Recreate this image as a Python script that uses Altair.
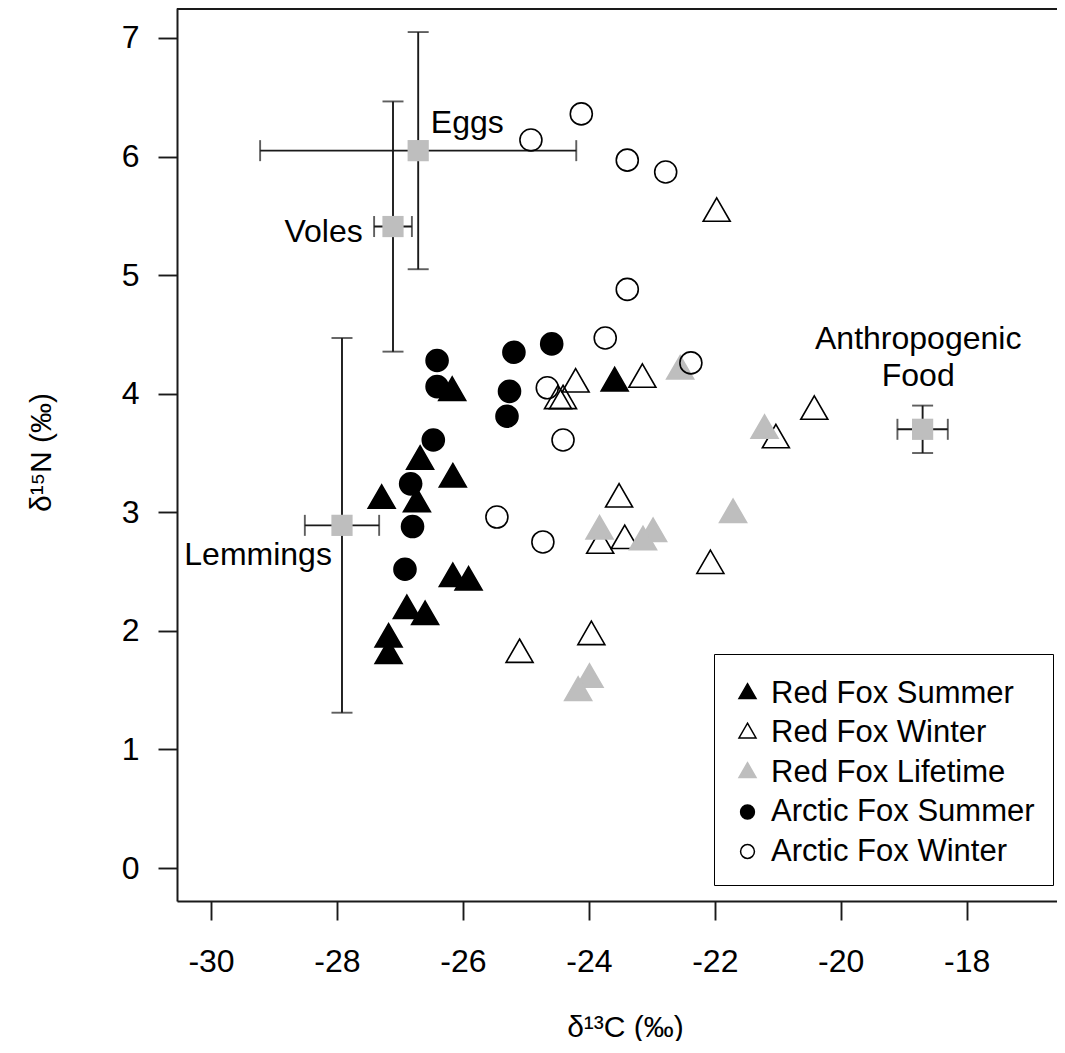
import altair as alt
import pandas as pd

# ---------------- data ----------------
series_names = ["Red Fox Summer", "Red Fox Winter", "Red Fox Lifetime",
                "Arctic Fox Summer", "Arctic Fox Winter"]

rfs_x = [-26.17, -26.68, -26.16, -27.29, -26.73, -26.16, -25.91, -26.89, -26.60, -27.18, -27.18, -23.59]
rfs_y = [4.01, 3.43, 3.28, 3.10, 3.07, 2.44, 2.41, 2.17, 2.12, 1.93, 1.79, 4.09]

rfw_x = [-24.21, -24.49, -24.41, -23.15, -23.52, -23.82, -23.43, -22.07, -23.96, -25.10, -20.42, -21.03, -21.97]
rfw_y = [4.08, 3.94, 3.94, 4.12, 3.11, 2.72, 2.76, 2.55, 1.95, 1.80, 3.85, 3.61, 5.52]

rfl_x = [-22.55, -23.83, -22.98, -23.14, -21.71, -23.99, -24.17, -21.21]
rfl_y = [4.19, 2.84, 2.82, 2.75, 2.98, 1.59, 1.48, 3.69]

afs_x = [-26.41, -26.41, -26.47, -26.83, -26.80, -26.92, -25.19, -24.59, -25.26, -25.30]
afs_y = [4.28, 4.06, 3.61, 3.24, 2.88, 2.52, 4.35, 4.42, 4.02, 3.81]

afw_x = [-24.92, -24.12, -23.39, -22.78, -23.39, -23.74, -22.38, -24.66, -24.41, -25.46, -24.73]
afw_y = [6.14, 6.36, 5.97, 5.87, 4.88, 4.47, 4.26, 4.05, 3.61, 2.96, 2.75]

prey_names = ["Eggs", "Voles", "Lemmings", "Anthropogenic Food"]
prey_x = [-26.71, -27.11, -27.92, -18.70]
prey_sx = [2.51, 0.30, 0.59, 0.40]
prey_y = [6.05, 5.41, 2.89, 3.70]
prey_sy = [1.00, 1.055, 1.58, 0.20]

ann_text = ["Eggs", "Voles", "Lemmings", "Anthropogenic", "Food"]
ann_x = [-26.51, -27.59, -28.08, -18.77, -18.77]
ann_y = [6.20, 5.28, 2.556, 4.375, 4.066]
ann_align = ["left", "right", "right", "center", "center"]

x_ticks = [-30, -28, -26, -24, -22, -20, -18]
y_ticks = [0, 1, 2, 3, 4, 5, 6, 7]

# ---------------- tables ----------------
rows = []
for name, xs, ys in zip(series_names,
                        [rfs_x, rfw_x, rfl_x, afs_x, afw_x],
                        [rfs_y, rfw_y, rfl_y, afs_y, afw_y]):
    for xv, yv in zip(xs, ys):
        rows.append({"series": name, "d13C": xv, "d15N": yv})
pts = pd.DataFrame(rows)

prey = pd.DataFrame({"prey": prey_names, "mx": prey_x, "sx": prey_sx,
                     "my": prey_y, "sy": prey_sy})
ann = pd.DataFrame({"label": ann_text, "ax": ann_x, "ay": ann_y, "align": ann_align})

FONT = "Liberation Sans"
INK = "#1a1a1a"
GRAY = "#BEBEBE"
W, H = 880, 893
LW = 1.9

TRI = "M0,-1.155L1,0.577L-1,0.577Z"
CIRC = "M0.815,0A0.815,0.815,0,1,1,-0.815,0A0.815,0.815,0,1,1,0.815,0Z"

xscale = alt.Scale(domain=[-30.54, -16.566], nice=False, zero=False)
yscale = alt.Scale(domain=[-0.278, 7.253], nice=False, zero=False)

xaxis = alt.Axis(values=x_ticks, labelExpr="'' + datum.value",
                 tickSize=19, tickWidth=LW, tickColor=INK,
                 labelFontSize=32, labelFont=FONT, labelColor="black",
                 labelPadding=26, labelFlush=False,
                 domain=True, domainColor=INK, domainWidth=2, grid=False,
                 title="δ¹³C (‰)", titleFontSize=30, titleFont=FONT,
                 titleFontWeight="normal", titleColor="black",
                 titleX=448, titleY=135, titleBaseline="alphabetic")
yaxis = alt.Axis(values=y_ticks, labelExpr="'' + datum.value",
                 tickSize=19, tickWidth=LW, tickColor=INK,
                 labelFontSize=32, labelFont=FONT, labelColor="black",
                 labelPadding=19, labelFlush=False,
                 domain=True, domainColor=INK, domainWidth=2, grid=False,
                 title="δ¹⁵N (‰)", titleFontSize=30, titleFont=FONT,
                 titleFontWeight="normal", titleColor="black",
                 titleAngle=270, titleX=-127, titleY=444,
                 titleBaseline="alphabetic", titleAlign="center")

base_prey = alt.Chart(prey).transform_calculate(
    xlo="datum.mx - datum.sx", xhi="datum.mx + datum.sx",
    ylo="datum.my - datum.sy", yhi="datum.my + datum.sy")

hbar = base_prey.mark_rule(color=INK, strokeWidth=LW).encode(
    x=alt.X("xlo:Q", scale=xscale, axis=xaxis), x2="xhi:Q",
    y=alt.Y("my:Q", scale=yscale, axis=yaxis))
vbar = base_prey.mark_rule(color=INK, strokeWidth=LW).encode(
    x=alt.X("mx:Q", scale=xscale), y=alt.Y("ylo:Q", scale=yscale), y2="yhi:Q")
cap_l = base_prey.mark_tick(orient="vertical", size=21, thickness=LW, color=INK).encode(
    x=alt.X("xlo:Q", scale=xscale), y=alt.Y("my:Q", scale=yscale))
cap_r = base_prey.mark_tick(orient="vertical", size=21, thickness=LW, color=INK).encode(
    x=alt.X("xhi:Q", scale=xscale), y=alt.Y("my:Q", scale=yscale))
cap_b = base_prey.mark_tick(orient="horizontal", size=21, thickness=LW, color=INK).encode(
    x=alt.X("mx:Q", scale=xscale), y=alt.Y("ylo:Q", scale=yscale))
cap_t = base_prey.mark_tick(orient="horizontal", size=21, thickness=LW, color=INK).encode(
    x=alt.X("mx:Q", scale=xscale), y=alt.Y("yhi:Q", scale=yscale))
squares = base_prey.mark_point(shape="square", filled=True, size=450,
                               color=GRAY, opacity=1).encode(
    x=alt.X("mx:Q", scale=xscale), y=alt.Y("my:Q", scale=yscale))

# top edge of the plot frame (right edge lies outside the picture)
top_edge = alt.Chart(prey).mark_rule(color=INK, strokeWidth=2).encode(
    x=alt.value(0), x2=alt.value(W), y=alt.value(1))

leg = alt.Legend(title=" ", titleFontSize=1, titlePadding=5,
                 orient="none", legendX=537, legendY=646,
                 strokeColor="black", fillColor="white", padding=18,
                 labelFontSize=31, labelFont=FONT, labelColor="black",
                 labelLimit=500, labelOffset=8, rowPadding=7.5,
                 symbolSize=289, symbolStrokeWidth=1.5)
points = alt.Chart(pts).mark_point(size=729, strokeWidth=1.6, opacity=1).encode(
    x=alt.X("d13C:Q", scale=xscale),
    y=alt.Y("d15N:Q", scale=yscale),
    shape=alt.Shape("series:N", scale=alt.Scale(domain=series_names,
                    range=[TRI, TRI, TRI, CIRC, CIRC]), legend=leg),
    fill=alt.Fill("series:N", scale=alt.Scale(domain=series_names,
                  range=["black", "transparent", GRAY, "black", "transparent"]), legend=leg),
    stroke=alt.Stroke("series:N", scale=alt.Scale(domain=series_names,
                      range=["black", "black", GRAY, "black", "black"]), legend=leg),
)

texts = []
for al in ["left", "right", "center"]:
    texts.append(alt.Chart(ann).transform_filter(f"datum.align == '{al}'").mark_text(
        align=al, baseline="alphabetic", fontSize=32, font=FONT, color="black").encode(
        x=alt.X("ax:Q", scale=xscale), y=alt.Y("ay:Q", scale=yscale), text="label:N"))

chart = alt.layer(hbar, vbar, cap_l, cap_r, cap_b, cap_t, squares, top_edge,
                  points, *texts).properties(
    width=W, height=H,
    autosize=alt.AutoSizeParams(type="none"),
    padding={"left": 169, "top": 0, "right": 0, "bottom": 140},
    background="white",
).configure_view(strokeWidth=0).configure_legend(strokeWidth=2).configure(font=FONT)

chart.save("out.html", embed_options={"renderer": "svg", "actions": False})
